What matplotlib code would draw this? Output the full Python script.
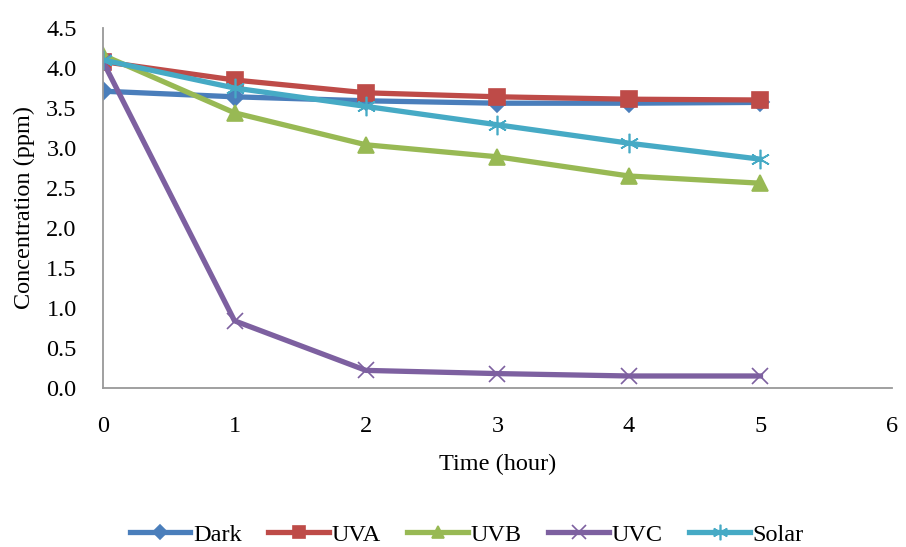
import matplotlib.pyplot as plt
import numpy as np

plt.rcParams['font.family'] = ['Liberation Serif', 'DejaVu Serif']

time = [0, 1, 2, 3, 4, 5]
dark = [3.71, 3.64, 3.59, 3.56, 3.56, 3.57]
uva = [4.08, 3.85, 3.69, 3.64, 3.61, 3.60]
uvb = [4.16, 3.44, 3.04, 2.89, 2.65, 2.56]
uvc = [4.08, 0.84, 0.22, 0.18, 0.15, 0.15]
solar = [4.10, 3.75, 3.52, 3.29, 3.06, 2.86]
yticks = [0.0, 0.5, 1.0, 1.5, 2.0, 2.5, 3.0, 3.5, 4.0, 4.5]

series = [
    ("Dark", dark, "#4a7ebb", "D", 9),
    ("UVA", uva, "#be4b48", "s", 11),
    ("UVB", uvb, "#98b954", "^", 11),
    ("UVC", uvc, "#7d60a0", "x", 12),
    ("Solar", solar, "#46aac5", (6, 2, 0), 14),
]

fig = plt.figure(figsize=(9.06, 5.47), dpi=100)
ax = fig.add_axes([0.1137, 0.2907, 0.8708, 0.6581])

for name, vals, col, mk, ms in series:
    ax.plot(time, vals, color=col, lw=3.8, marker=mk, markersize=ms,
            markeredgecolor=col, markeredgewidth=1.2, label=name)

ax.set_xlim(0, 6)
ax.set_ylim(0, 4.5)
ax.set_xticks(np.arange(0, 7, 1))
ax.set_yticks(yticks)
ax.set_yticklabels([f"{v:.1f}" for v in yticks])
ax.tick_params(labelsize=17.5, length=0)
ax.tick_params(axis="y", pad=19)
ax.tick_params(axis="x", pad=20)
for s in ["top", "right"]:
    ax.spines[s].set_visible(False)
for s in ["left", "bottom"]:
    ax.spines[s].set_color("#999999")
    ax.spines[s].set_linewidth(1.3)
ax.set_xlabel("Time (hour)", fontsize=17.5, labelpad=12)
ax.set_ylabel("Concentration (ppm)", fontsize=17.5, labelpad=8)

fig.legend(loc="center", ncol=5, frameon=False, fontsize=17.5,
           bbox_to_anchor=(0.515, 0.022), handlelength=2.5, columnspacing=1.1,
           handletextpad=0.1, markerscale=0.8, borderpad=0.1)

fig.savefig("out.png", dpi=100)
